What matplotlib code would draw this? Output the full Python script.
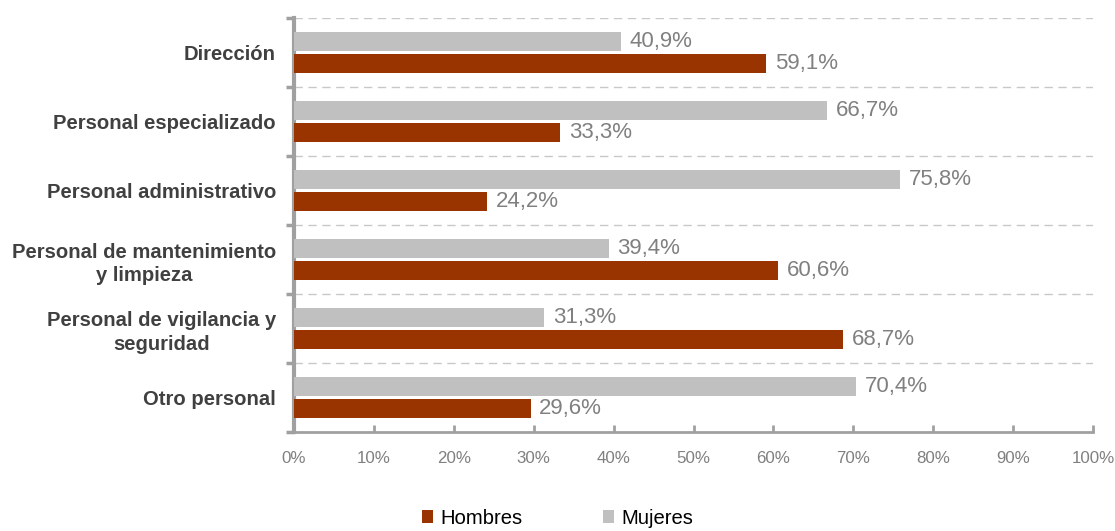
import numpy as np
import matplotlib.pyplot as plt

plt.rcParams['font.family'] = ['Liberation Sans', 'DejaVu Sans']

# Data
categories = ['Dirección', 'Personal especializado', 'Personal administrativo',
              'Personal de mantenimiento\ny limpieza',
              'Personal de vigilancia y\nseguridad', 'Otro personal']
hombres = [59.1, 33.3, 24.2, 60.6, 68.7, 29.6]
mujeres = [40.9, 66.7, 75.8, 39.4, 31.3, 70.4]
xticks = [0, 10, 20, 30, 40, 50, 60, 70, 80, 90, 100]

RED = '#993300'
GRAY = '#C0C0C0'
AXIS = '#A0A0A0'
TXT = '#808080'

fig = plt.figure(figsize=(11.15, 5.31), dpi=100)
ax = fig.add_axes([294 / 1115, 1 - 432 / 531, (1093 - 294) / 1115, (432 - 18) / 531])

y = np.arange(len(categories))
h = 0.28
off = 0.155

ax.barh(y - off, mujeres, height=h, color=GRAY, label='Mujeres', zorder=3)
ax.barh(y + off, hombres, height=h, color=RED, label='Hombres', zorder=3)

for i in range(len(categories)):
    ax.text(mujeres[i] + 1.1, y[i] - off, f'{mujeres[i]:.1f}%'.replace('.', ','),
            va='center', ha='left', color=TXT, fontsize=16)
    ax.text(hombres[i] + 1.1, y[i] + off, f'{hombres[i]:.1f}%'.replace('.', ','),
            va='center', ha='left', color=TXT, fontsize=16)

ax.set_xlim(0, 100)
ax.set_ylim(len(categories) - 0.5, -0.5)

# dashed gridlines at category boundaries
for b in np.arange(-0.5, len(categories) - 0.5, 1):
    ax.axhline(b, color='#C8C8C8', linestyle=(0, (6, 4)), linewidth=1, zorder=1)

ax.set_xticks(xticks)
ax.set_xticklabels([f'{t}%' for t in xticks], color=TXT, fontsize=12.2)
ax.tick_params(axis='x', direction='in', length=5, width=2, color=AXIS, pad=14)

ax.set_yticks(np.arange(-0.5, len(categories), 1))
ax.set_yticklabels([])
ax.tick_params(axis='y', which='major', direction='out', length=6, width=2.5, color=AXIS)
ax.set_yticks(y, minor=True)
ax.set_yticklabels(categories, minor=True, fontsize=14.6, fontweight='bold',
                   color='#404040', ha='right', multialignment='center',
                   linespacing=1.3)
ax.tick_params(axis='y', which='minor', length=0, pad=13)

for s in ['top', 'right']:
    ax.spines[s].set_visible(False)
ax.spines['left'].set_color(AXIS)
ax.spines['left'].set_linewidth(3)
ax.spines['bottom'].set_color(AXIS)
ax.spines['bottom'].set_linewidth(2)

handles, labels = ax.get_legend_handles_labels()
fig.legend(handles[::-1], labels[::-1], loc='lower center', bbox_to_anchor=(0.5, -0.028),
           ncol=2, frameon=False, fontsize=14.6, handlelength=0.55, handleheight=0.55,
           columnspacing=4.0, handletextpad=0.35)

fig.savefig('out.png', dpi=100)
